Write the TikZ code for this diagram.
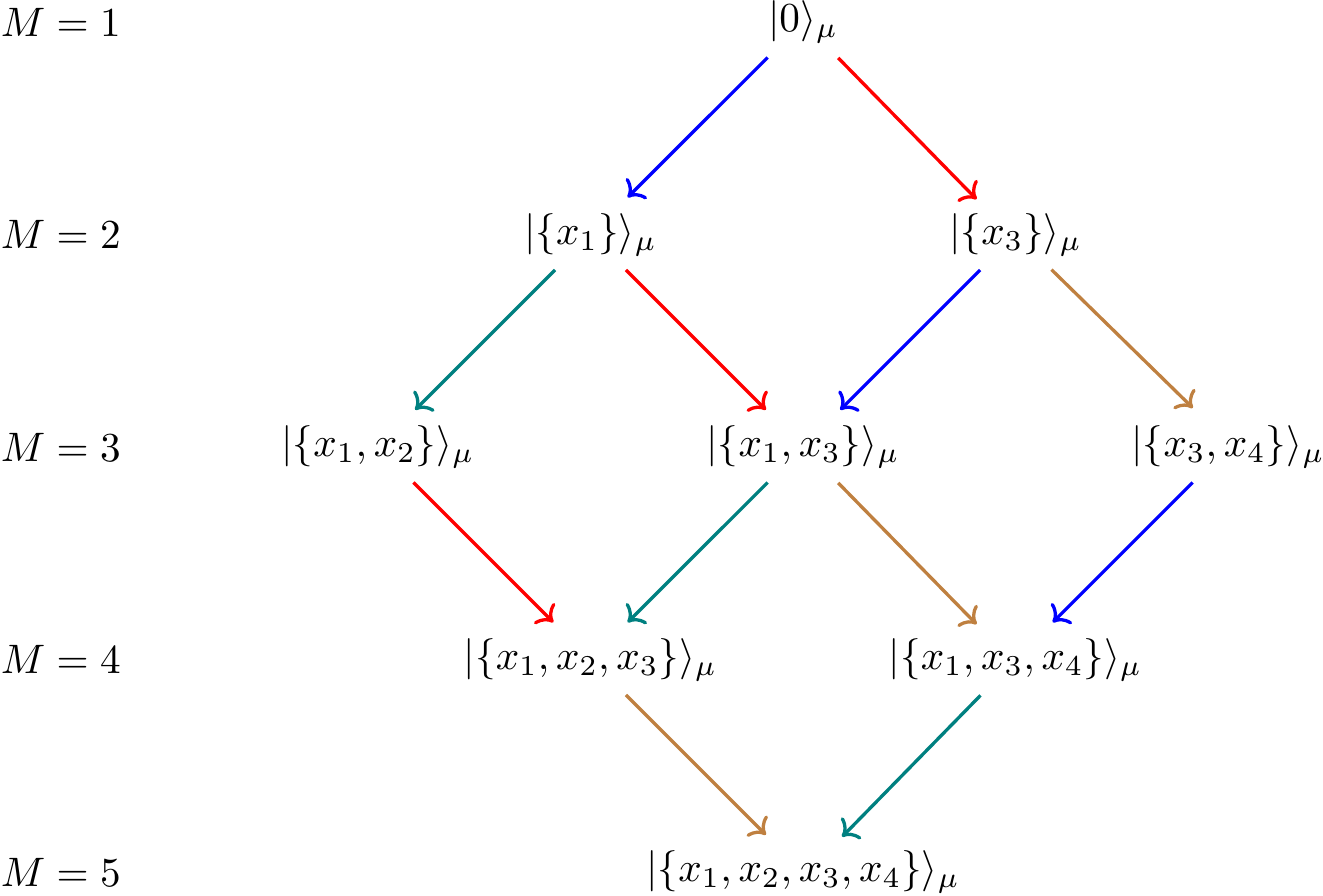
\documentclass[tikz,border=0pt]{standalone}
\usepackage{amsmath}
\usepackage{xcolor}
\usetikzlibrary{arrows.meta,positioning}

\begin{document}
\begin{tikzpicture}[
lvl/.style={anchor=west,inner sep=0pt},
ket/.style={inner sep=0pt},
hop/.style={->,thick,shorten <=0.428cm,shorten >=0.449cm}]

\useasboundingbox (0,0) rectangle (11.288,-7.637);

% levels
\node[lvl] (m1) at (0,-0.188) {$M=1$};
\node[lvl] (m2) at (0,-2.001) {$M=2$};
\node[lvl] (m3) at (0,-3.814) {$M=3$};
\node[lvl] (m4) at (0,-5.627) {$M=4$};
\node[lvl] (m5) at (0,-7.440) {$M=5$};

% states
\node[ket] (vac) at (6.852,-0.188) {$|0\rangle_\mu$};
\node[ket] (s1) at (5.038,-2.001) {$|\{x_1\}\rangle_\mu$};
\node[ket] (s3) at (8.665,-2.001) {$|\{x_3\}\rangle_\mu$};
\node[ket] (s12) at (3.225,-3.814) {$|\{x_1,x_2\}\rangle_\mu$};
\node[ket] (s13) at (6.852,-3.814) {$|\{x_1,x_3\}\rangle_\mu$};
\node[ket] (s34) at (10.478,-3.814) {$|\{x_3,x_4\}\rangle_\mu$};
\node[ket] (s123) at (5.038,-5.627) {$|\{x_1,x_2,x_3\}\rangle_\mu$};
\node[ket] (s134) at (8.665,-5.627) {$|\{x_1,x_3,x_4\}\rangle_\mu$};
\node[ket] (s1234) at (6.852,-7.440) {$|\{x_1,x_2,x_3,x_4\}\rangle_\mu$};

% transitions
\draw[hop,blue] (vac.center) -- (s1.center);
\draw[hop,red] (vac.center) -- (s3.center);
\draw[hop,teal] (s1.center) -- (s12.center);
\draw[hop,red] (s1.center) -- (s13.center);
\draw[hop,blue] (s3.center) -- (s13.center);
\draw[hop,brown] (s3.center) -- (s34.center);
\draw[hop,red] (s12.center) -- (s123.center);
\draw[hop,teal] (s13.center) -- (s123.center);
\draw[hop,brown] (s13.center) -- (s134.center);
\draw[hop,blue] (s34.center) -- (s134.center);
\draw[hop,brown] (s123.center) -- (s1234.center);
\draw[hop,teal] (s134.center) -- (s1234.center);

\end{tikzpicture}
\end{document}
